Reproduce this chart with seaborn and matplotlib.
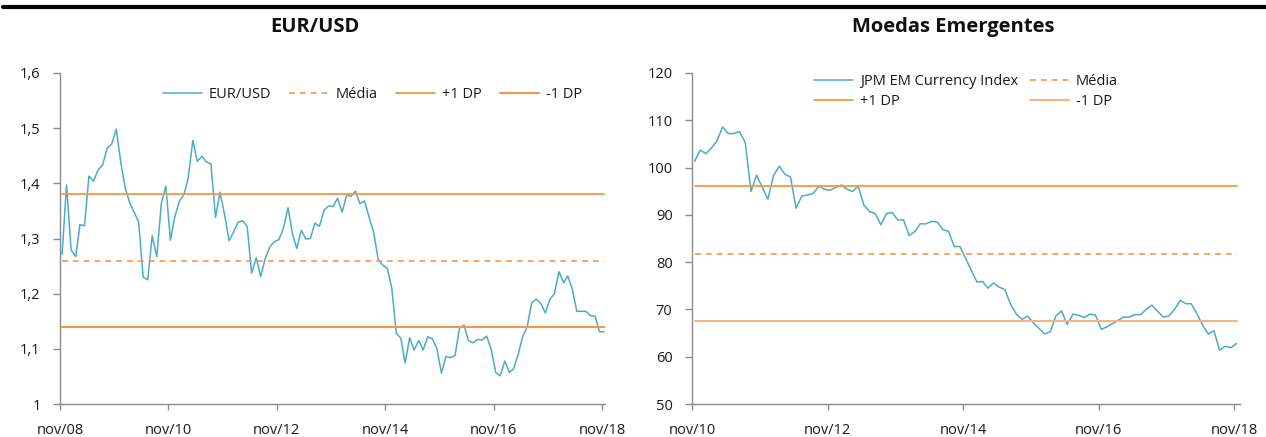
import numpy as np
import pandas as pd
import matplotlib
matplotlib.use("Agg")
import matplotlib.pyplot as plt
import matplotlib.dates as mdates
from matplotlib.lines import Line2D
import seaborn as sns

# ---------------- data ----------------
eurusd = [1.271, 1.397, 1.279, 1.267, 1.325, 1.323, 1.413, 1.404, 1.424, 1.433,
          1.464, 1.471, 1.498, 1.439, 1.391, 1.364, 1.348, 1.330, 1.230, 1.225,
          1.305, 1.267, 1.364, 1.395, 1.297, 1.340, 1.368, 1.380, 1.410, 1.478,
          1.440, 1.449, 1.439, 1.435, 1.338, 1.384, 1.343, 1.296, 1.312, 1.330,
          1.332, 1.322, 1.237, 1.265, 1.231, 1.264, 1.285, 1.294, 1.298, 1.318,
          1.356, 1.308, 1.282, 1.315, 1.299, 1.300, 1.328, 1.322, 1.351, 1.359,
          1.358, 1.373, 1.348, 1.379, 1.376, 1.386, 1.363, 1.368, 1.339, 1.312,
          1.262, 1.252, 1.246, 1.211, 1.128, 1.119, 1.074, 1.120, 1.098, 1.115,
          1.098, 1.122, 1.118, 1.101, 1.056, 1.086, 1.084, 1.088, 1.137, 1.143,
          1.115, 1.111, 1.117, 1.116, 1.123, 1.099, 1.057, 1.051, 1.078, 1.057,
          1.064, 1.090, 1.122, 1.140, 1.184, 1.190, 1.182, 1.165, 1.190, 1.200,
          1.240, 1.220, 1.232, 1.208, 1.168, 1.168, 1.168, 1.160, 1.159, 1.131,
          1.131]
eur_start = "2008-11-01"
eur_mean, eur_plus, eur_minus = 1.26, 1.38, 1.14

em_index = [101.3, 103.7, 102.95, 104.2, 105.6, 108.6, 107.2, 107.2, 107.6, 105.3,
            94.95, 98.4, 95.8, 93.3, 98.4, 100.3, 98.6, 98.0, 91.4, 94.0,
            94.2, 94.5, 96.1, 95.4, 95.2, 95.8, 96.3, 95.4, 94.95, 96.1,
            92.1, 90.7, 90.3, 87.9, 90.3, 90.5, 88.9, 88.97, 85.6, 86.5,
            88.1, 88.1, 88.6, 88.5, 86.9, 86.5, 83.3, 83.3,
            80.8, 78.3, 75.8, 75.9, 74.5, 75.6, 74.7, 74.2, 71.1, 69.0,
            67.9, 68.6, 67.2, 66.0, 64.8, 65.3, 68.6, 69.7, 66.8, 69.0,
            68.8, 68.3, 69.0, 68.8, 65.8, 66.3, 67.0, 67.7, 68.4, 68.4,
            68.9, 68.9, 70.0, 70.9, 69.6, 68.4, 68.6, 70.0, 71.9, 71.2,
            71.2, 69.1, 66.7, 64.8, 65.5, 61.4, 62.2, 61.9, 62.8]
em_start = "2010-11-01"
em_mean, em_plus, em_minus = 81.8, 96.0, 67.6

eur_yticks = [1.0, 1.1, 1.2, 1.3, 1.4, 1.5, 1.6]
eur_yticklabels = ["1", "1,1", "1,2", "1,3", "1,4", "1,5", "1,6"]
eur_xticks = ["2008-11-01", "2010-11-01", "2012-11-01", "2014-11-01", "2016-11-01", "2018-11-01"]
eur_xticklabels = ["nov/08", "nov/10", "nov/12", "nov/14", "nov/16", "nov/18"]

em_yticks = [50, 60, 70, 80, 90, 100, 110, 120]
em_yticklabels = ["50", "60", "70", "80", "90", "100", "110", "120"]
em_xticks = ["2010-11-01", "2012-11-01", "2014-11-01", "2016-11-01", "2018-11-01"]
em_xticklabels = ["nov/10", "nov/12", "nov/14", "nov/16", "nov/18"]

# ---------------- style ----------------
sns.set_theme(style="white")
plt.rcParams['font.family'] = ['Open Sans', 'DejaVu Sans']
plt.rcParams['axes.edgecolor'] = '#8c8c8c'

TEAL = '#4BACC6'
ORANGE = '#F79646'
ORANGE_LIGHT = '#F9B27C'
TXT = '#1a1a1a'

fig = plt.figure(figsize=(12.66, 4.37), dpi=100)
ax1 = fig.add_axes([60/1266, 1-404/437, (605-60)/1266, (404-73)/437])
ax2 = fig.add_axes([692/1266, 1-404/437, (1240-692)/1266, (404-73)/437])

def make_df(start, vals):
    d = pd.date_range(start, periods=len(vals), freq="MS") + pd.Timedelta(days=14)
    return pd.DataFrame({"date": d, "value": vals})

def draw(ax, df, name, mean, plus, minus, minus_color, ncol, anchor, colsp):
    n = len(df)
    sns.lineplot(data=df, x="date", y="value", ax=ax, color=TEAL, lw=1.1, label=name)
    const = df[["date"]].copy()
    const["m"] = [mean] * n
    const["p"] = [plus] * n
    const["n"] = [minus] * n
    sns.lineplot(data=const, x="date", y="m", ax=ax, color=ORANGE, lw=1.2,
                 linestyle=(0, (3.5, 3)), label="Média")
    sns.lineplot(data=const, x="date", y="p", ax=ax, color=ORANGE, lw=1.3, label="+1 DP")
    sns.lineplot(data=const, x="date", y="n", ax=ax, color=minus_color, lw=1.5, label="-1 DP")
    h, l = ax.get_legend_handles_labels()
    if ncol == 2:
        order = [0, 2, 1, 3]
    else:
        order = [0, 1, 2, 3]
    ax.legend([h[i] for i in order], [l[i] for i in order], ncol=ncol, frameon=False,
              loc="center", bbox_to_anchor=anchor, fontsize=10.5,
              handlelength=2.7, handletextpad=0.45, columnspacing=colsp,
              labelspacing=0.35, labelcolor=TXT)
    ax.set_xlabel("")
    ax.set_ylabel("")
    for s in ["top", "right"]:
        ax.spines[s].set_visible(False)
    for s in ["left", "bottom"]:
        ax.spines[s].set_color('#8c8c8c')
        ax.spines[s].set_linewidth(1.0)

draw(ax1, make_df(eur_start, eurusd), "EUR/USD", eur_mean, eur_plus, eur_minus,
     ORANGE, 4, (0.573, 0.934), 1.25)
draw(ax2, make_df(em_start, em_index), "JPM EM Currency Index", em_mean, em_plus, em_minus,
     ORANGE_LIGHT, 2, (0.50, 0.943), 0.8)

ax1.set_ylim(1.0, 1.6)
ax1.set_yticks(eur_yticks)
ax1.set_yticklabels(eur_yticklabels)
ax1.set_xlim(pd.Timestamp("2008-11-01"), pd.Timestamp("2018-11-21"))
ax1.set_xticks([pd.Timestamp(t) for t in eur_xticks])
ax1.set_xticklabels(eur_xticklabels)

ax2.set_ylim(50, 120)
ax2.set_yticks(em_yticks)
ax2.set_yticklabels(em_yticklabels)
ax2.set_xlim(pd.Timestamp("2010-11-01"), pd.Timestamp("2018-12-03"))
ax2.set_xticks([pd.Timestamp(t) for t in em_xticks])
ax2.set_xticklabels(em_xticklabels)

for ax in (ax1, ax2):
    ax.tick_params(axis="x", which="both", direction="out", length=4, width=1,
                   color='#8c8c8c', pad=10, labelsize=10.5, labelcolor=TXT, bottom=True)
    ax.tick_params(axis="y", which="both", direction="out", length=5, width=1,
                   color='#8c8c8c', pad=9, labelsize=10.5, labelcolor=TXT, left=True)

fig.text(315/1266, 1-27/437, "EUR/USD", ha="center", va="center",
         fontsize=14.5, fontweight="bold", color="#111111")
fig.text(953/1266, 1-27/437, "Moedas Emergentes", ha="center", va="center",
         fontsize=14.5, fontweight="bold", color="#111111")
fig.add_artist(Line2D([0.002, 1.0], [1-7/437, 1-7/437], transform=fig.transFigure,
                      color="black", lw=3))

fig.savefig("out.png", dpi=100)
